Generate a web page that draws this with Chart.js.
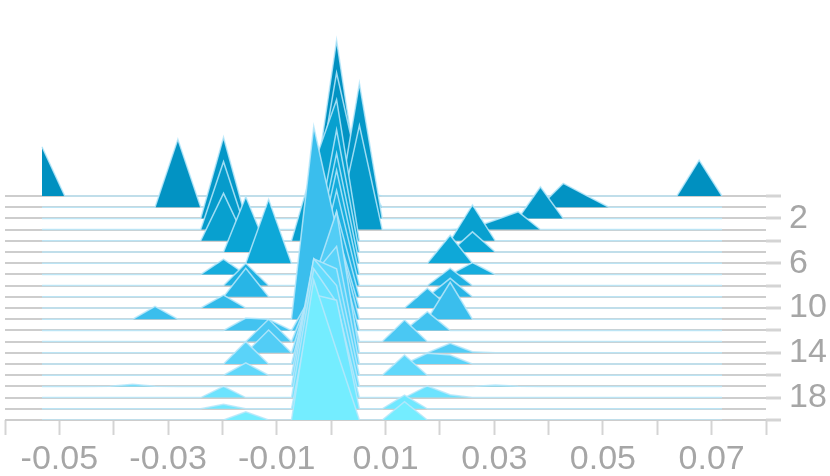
<!DOCTYPE html>
<html>
<head>
<meta charset="utf-8">
<script src="https://cdn.jsdelivr.net/npm/chart.js@4.4.1/dist/chart.umd.min.js"></script>
<style>
  html, body { margin: 0; padding: 0; background: #fff; }
  #chart { display: block; }
</style>
</head>
<body>
<canvas id="chart" width="830" height="476"></canvas>
<script>
// x positions of the density grid (31 bins)
const xVals = [
  -0.0532, -0.0490, -0.0449, -0.0407, -0.0365, -0.0324, -0.0282, -0.0240, -0.0198, -0.0157,
  -0.0115, -0.0073, -0.0032, 0.0010, 0.0052, 0.0094, 0.0135, 0.0177, 0.0219, 0.0260,
  0.0302, 0.0344, 0.0385, 0.0427, 0.0469, 0.0511, 0.0552, 0.0594, 0.0636, 0.0677, 0.0719
];

// ridge heights per row (row 0 at top, row 20 at bottom)
const r00 = [4.4,0,0,0,0, 0,0,0,0,0, 0,0,0,13.9,0.4, 0,0,0,0,0, 0,0,0,0,0, 0,0,0,0,3.2, 0];
const r01 = [0,0,0,0,0, 0,6.06,0,0,0, 0,0,0,12.0,3.0, 0,0,0,0,0, 0,0,0.1,2.13,1.05, 0,0,0,0,0, 0];
const r02 = [0,0,0,0,0, 0,0,0,7.24,0, 0,0,0,0,12.06, 0,0,0,0,0, 0,0,2.83,0,0, 0,0,0,0,0, 0];
const r03 = [0,0,0,0,0, 0,0,0,6.06,0, 0,0,0,0,9.3, 0,0,0,0,0.15, 0.85,1.6,0,0,0, 0,0,0,0,0, 0];
const r04 = [0,0,0,0,0, 0,0,0,4.24,0, 0,0,6.8,12.6,0, 0,0,0,0,3.2, 0,0,0,0,0, 0,0,0,0,0, 0];
const r05 = [0,0,0,0,0, 0,0,0,0,4.94, 0,0,0,10.9,0, 0,0,0,0,1.8, 0,0,0,0,0, 0,0,0,0,0, 0];
const r06 = [0,0,0,0,0, 0,0,0,0,0, 5.7,0,0,9.8,0, 0,0,0,2.5,0, 0,0,0,0,0, 0,0,0,0,0, 0];
const r07 = [0,0,0,0,0, 0,0,0,1.37,0, 0,0,0,9.3,0, 0,0,0,0,1.05, 0,0,0,0,0, 0,0,0,0,0, 0];
const r08 = [0,0,0,0,0, 0,0,0,0,2.0, 0,0,0,8.5,0, 0,0,0,1.55,0, 0,0,0,0,0, 0,0,0,0,0, 0];
const r09 = [0,0,0,0,0, 0,0,0,0,2.55, 0,0,0,7.6,0, 0,0,0,1.65,0, 0,0,0,0,0, 0,0,0,0,0, 0];
const r10 = [0,0,0,0,0, 0,0,0,1.16,0, 0,0,0,7.0,0, 0,0,1.76,0,0, 0,0,0,0,0, 0,0,0,0,0, 0];
const r11 = [0,0,0,0,0, 1.14,0,0,0,0, 0,0,17.2,8.0,0, 0,0,0,3.3,0, 0,0,0,0,0, 0,0,0,0,0, 0];
const r12 = [0,0,0,0,0, 0,0,0,0,1.1, 1.0,0,3.5,7.5,0, 0,0,1.67,0,0, 0,0,0,0,0, 0,0,0,0,0, 0];
const r13 = [0,0,0,0,0, 0,0,0,0,0, 2.0,0,5.0,8.0,0, 0,1.93,0,0,0, 0,0,0,0,0, 0,0,0,0,0, 0];
const r14 = [0,0,0,0,0, 0,0,0,0,0, 2.04,0,6.5,12.6,0, 0,0,0,0.85,0.1, 0,0,0,0,0, 0,0,0,0,0, 0];
const r15 = [0,0,0,0,0, 0,0,0,0,2.0, 0,0,8.0,10.5,0, 0,0,0.95,0.8,0, 0,0,0,0,0, 0,0,0,0,0, 0];
const r16 = [0,0,0,0,0, 0,0,0,0,1.1, 0,0,10.4,9.5,0, 0,1.8,0,0,0, 0,0,0,0,0, 0,0,0,0,0, 0];
const r17 = [0,0,0,0.02,0.2, 0.02,0,0,0,0, 0,0,11.4,9.0,0, 0,0,0,0,0, 0.12,0.02,0,0,0, 0,0,0,0,0, 0];
const r18 = [0,0,0,0,0, 0,0,0,1.0,0, 0,0,11.5,8.5,0, 0,0,1.04,0.25,0, 0,0,0,0,0, 0,0,0,0,0, 0];
const r19 = [0,0,0,0,0, 0,0,0,0.4,0, 0,0,10.2,9.7,0, 0,1.23,0,0,0, 0,0,0,0,0, 0,0,0,0,0, 0];
const r20 = [0,0,0,0,0, 0,0,0,0,0.74, 0,0,12.5,6.2,0, 0,1.63,0,0,0, 0,0,0,0,0, 0,0,0,0,0, 0];

const rows = [r00, r01, r02, r03, r04, r05, r06, r07, r08, r09, r10,
              r11, r12, r13, r14, r15, r16, r17, r18, r19, r20];

const yLabels = [2, 6, 10, 14, 18];

const palette = [
  "#0090c0", "#0293c3", "#0497c7", "#069bcb", "#08a0cf",
  "#0aa4d4", "#0ea8d8", "#16addd", "#1fb1e2", "#28b5e6",
  "#32bae9", "#3abeed", "#42c3f0", "#4ac8f3", "#52cdf6",
  "#5ad3f9", "#60d8fb", "#66ddfd", "#6ce3fe", "#70e8ff", "#74edff"
];

Chart.defaults.font.family = "'Liberation Sans', Arial, sans-serif";

const datasets = rows.map((h, i) => ({
  data: xVals.map((x, k) => ({ x: x, y: i - h[k] })),
  fill: { value: i },
  backgroundColor: palette[i],
  borderColor: "rgba(185,232,250,0.85)",
  borderWidth: 1.5,
  pointRadius: 0,
  tension: 0,
  order: 20 - i,
}));

new Chart(document.getElementById("chart"), {
  type: "line",
  data: { datasets },
  options: {
    responsive: false,
    animation: false,
    layout: { padding: { left: 5, top: 0, right: 0, bottom: 0 } },
    plugins: {
      legend: { display: false },
      tooltip: { enabled: false },
    },
    scales: {
      x: {
        type: "linear",
        min: -0.06,
        max: 0.08,
        border: { display: false },
        grid: {
          drawOnChartArea: false,
          drawTicks: true,
          tickLength: 15,
          tickColor: "#d4d4d4",
          tickWidth: 2,
        },
        ticks: {
          stepSize: 0.01,
          autoSkip: false,
          maxRotation: 0,
          padding: 4,
          color: "#a6a6a6",
          font: { size: 34 },
          callback: (v) => {
            const n = Math.round(v * 100);
            return Math.abs(n) % 2 === 1 ? (n / 100).toFixed(2) : "";
          },
        },
        afterFit: (s) => {
          s.height = 56;
          s.paddingLeft = 0;
          s.paddingRight = 0;
        },
      },
      y: {
        type: "linear",
        position: "right",
        reverse: true,
        min: -17.5,
        max: 20,
        border: { display: false },
        grid: {
          color: (ctx) => {
            const v = ctx.tick ? ctx.tick.value : -1;
            return v >= 0 && Number.isInteger(v) ? "#cdcdcd" : "rgba(0,0,0,0)";
          },
          lineWidth: 2,
          drawTicks: true,
          tickLength: 15,
          tickWidth: 3,
          tickColor: (ctx) => {
            const v = ctx.tick ? ctx.tick.value : -1;
            return v >= 0 && Number.isInteger(v) && v % 2 === 0 ? "#d4d4d4" : "rgba(0,0,0,0)";
          },
        },
        ticks: {
          stepSize: 1,
          autoSkip: false,
          padding: 8,
          color: "#a6a6a6",
          font: { size: 34 },
          callback: (v) => (yLabels.includes(v) ? String(v) : ""),
        },
        afterFit: (s) => {
          s.width = 64;
          s.paddingTop = 0;
          s.paddingBottom = 0;
        },
      },
    },
  },
});
</script>
</body>
</html>
